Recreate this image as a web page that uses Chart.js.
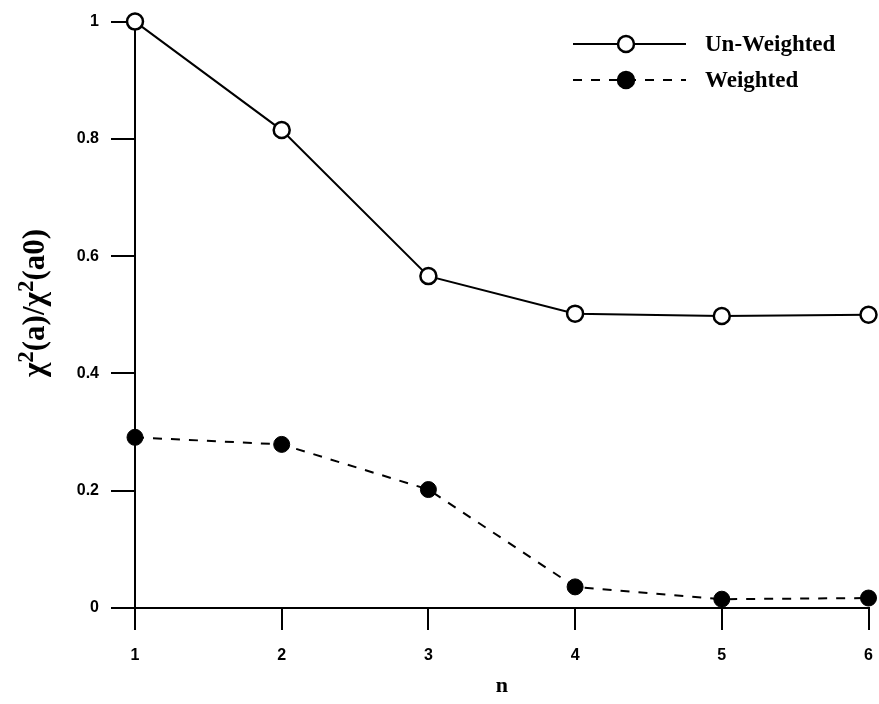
<!DOCTYPE html>
<html>
<head>
<meta charset="utf-8">
<script src="https://cdn.jsdelivr.net/npm/chart.js@4/dist/chart.umd.min.js"></script>
<style>
  html, body { margin: 0; padding: 0; background: #fff; }
  #wrap { width: 879px; height: 704px; }
</style>
</head>
<body>
<div id="wrap"><canvas id="chart"></canvas></div>
<script>
// values
const nValues = [1, 2, 3, 4, 5, 6];
const unWeighted = [1.0, 0.815, 0.566, 0.502, 0.498, 0.5];
const weighted = [0.291, 0.279, 0.202, 0.036, 0.015, 0.017];
const yTicks = [0, 0.2, 0.4, 0.6, 0.8, 1];
const seriesNames = ['Un-Weighted', 'Weighted'];
// y title pieces: [text, superscript?]
const yTitleParts = [['χ', false], ['2', true], ['(a)/χ', false], ['2', true], ['(a0)', false]];

const tickFont = { family: 'Liberation Sans', weight: 'bold', size: 16 };
const titleFont = { family: 'Liberation Serif', weight: 'bold', size: 22 };

// legend + y title drawn by hand
const handPlugin = {
  id: 'handDrawn',
  afterDraw(chart) {
    const ctx = chart.ctx;
    const rows = [
      { y: 44, dash: [], fill: '#fff', name: seriesNames[0] },
      { y: 80, dash: [9, 9], fill: '#000', name: seriesNames[1] }
    ];
    ctx.save();
    rows.forEach(r => {
      ctx.strokeStyle = '#000';
      ctx.lineWidth = 2;
      ctx.setLineDash(r.dash);
      ctx.beginPath();
      ctx.moveTo(573, r.y);
      ctx.lineTo(686, r.y);
      ctx.stroke();
      ctx.setLineDash([]);
      ctx.beginPath();
      ctx.arc(626, r.y, 8, 0, Math.PI * 2);
      ctx.fillStyle = r.fill;
      ctx.fill();
      ctx.lineWidth = 2.5;
      ctx.stroke();
      ctx.fillStyle = '#000';
      ctx.font = 'bold 23px "Liberation Serif"';
      ctx.textBaseline = 'middle';
      ctx.fillText(r.name, 705, r.y + 1);
    });
    ctx.restore();

    // rotated y title with superscripts
    const big = 'bold 31px "Liberation Serif"';
    const small = 'bold 23px "Liberation Serif"';
    let total = 0;
    yTitleParts.forEach(p => { ctx.font = p[1] ? small : big; total += ctx.measureText(p[0]).width; });
    ctx.save();
    ctx.translate(44, 303);
    ctx.rotate(-Math.PI / 2);
    ctx.fillStyle = '#000';
    ctx.textBaseline = 'alphabetic';
    let x = -total / 2;
    yTitleParts.forEach(p => {
      ctx.font = p[1] ? small : big;
      ctx.fillText(p[0], x, p[1] ? -11 : 0);
      x += ctx.measureText(p[0]).width;
    });
    ctx.restore();
  }
};

new Chart(document.getElementById('chart'), {
  type: 'line',
  data: {
    datasets: [
      {
        label: seriesNames[0],
        data: nValues.map((n, i) => ({ x: n, y: unWeighted[i] })),
        borderColor: '#000',
        borderWidth: 2,
        pointRadius: 8,
        pointBorderWidth: 2.5,
        pointBackgroundColor: '#fff',
        pointBorderColor: '#000',
        tension: 0
      },
      {
        label: seriesNames[1],
        data: nValues.map((n, i) => ({ x: n, y: weighted[i] })),
        borderColor: '#000',
        borderWidth: 2,
        borderDash: [9, 9],
        pointRadius: 8,
        pointBorderWidth: 1,
        pointBackgroundColor: '#000',
        pointBorderColor: '#000',
        tension: 0
      }
    ]
  },
  options: {
    responsive: true,
    maintainAspectRatio: false,
    animation: false,
    clip: false,
    layout: { padding: { top: 19, right: 0, left: 0, bottom: 0 } },
    plugins: { legend: { display: false }, tooltip: { enabled: false } },
    scales: {
      x: {
        type: 'linear',
        min: 1,
        max: 6,
        afterBuildTicks: s => { s.ticks = nValues.map(v => ({ value: v })); },
        afterFit: s => { s.height = 96; s.paddingRight = 0; },
        border: { color: '#000', width: 2 },
        grid: { drawOnChartArea: false, tickLength: 22, color: '#000', lineWidth: 2 },
        ticks: { color: '#000', font: tickFont, padding: 16 },
        title: { display: true, text: 'n', color: '#000', font: titleFont, padding: { top: 10 } }
      },
      y: {
        min: 0,
        max: 1,
        afterBuildTicks: s => { s.ticks = yTicks.map(v => ({ value: v })); },
        afterFit: s => { s.width = 135; },
        border: { color: '#000', width: 2 },
        grid: { drawOnChartArea: false, tickLength: 24, color: '#000', lineWidth: 2 },
        ticks: { color: '#000', font: tickFont, padding: 12, callback: v => String(v) }
      }
    }
  },
  plugins: [handPlugin]
});
</script>
</body>
</html>
